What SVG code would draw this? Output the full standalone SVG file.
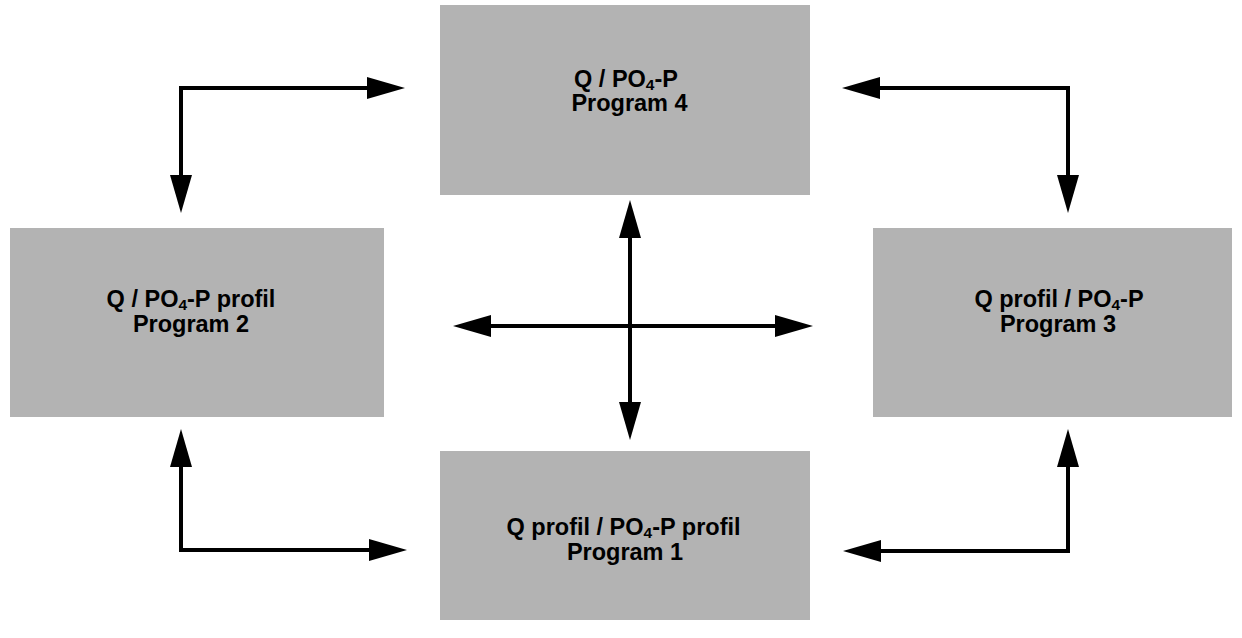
<svg xmlns="http://www.w3.org/2000/svg" width="1242" height="638" viewBox="0 0 1242 638">
  <style>
    .box { fill: #b3b3b3; }
    .label { font-family: "Liberation Sans", Arial, sans-serif; font-weight: bold; font-size: 23.5px; fill: #000; text-anchor: middle; }
    .sub { font-size: 15.5px; }
    .link { fill: none; stroke: #000; stroke-width: 4; stroke-linejoin: miter; marker-start: url(#head); marker-end: url(#head); }
  </style>
  <defs>
    <marker id="head" markerUnits="userSpaceOnUse" markerWidth="40" markerHeight="24" viewBox="0 -12 40 24" refX="0" refY="0" orient="auto-start-reverse">
      <path d="M0,-11 L38,0 L0,11 Z" fill="#000"/>
    </marker>
  </defs>

  <rect width="1242" height="638" fill="#fff"/>

  <!-- program boxes -->
  <g id="program4">
    <rect class="box" x="440" y="5" width="370" height="190"/>
    <text class="label" x="626" y="87">Q / PO<tspan class="sub" dy="3">4</tspan><tspan dy="-3">-P</tspan></text>
    <text class="label" x="629.5" y="111">Program 4</text>
  </g>
  <g id="program2">
    <rect class="box" x="10" y="228" width="374" height="189"/>
    <text class="label" x="191" y="307">Q / PO<tspan class="sub" dy="3">4</tspan><tspan dy="-3">-P profil</tspan></text>
    <text class="label" x="191" y="331.5">Program 2</text>
  </g>
  <g id="program3">
    <rect class="box" x="873" y="228" width="359" height="189"/>
    <text class="label" x="1059" y="307">Q profil / PO<tspan class="sub" dy="3">4</tspan><tspan dy="-3">-P</tspan></text>
    <text class="label" x="1058" y="331.5">Program 3</text>
  </g>
  <g id="program1">
    <rect class="box" x="440" y="451" width="370" height="169"/>
    <text class="label" x="623.5" y="535">Q profil / PO<tspan class="sub" dy="3">4</tspan><tspan dy="-3">-P profil</tspan></text>
    <text class="label" x="625" y="559.5">Program 1</text>
  </g>

  <!-- connectors -->
  <g id="connectors">
    <path class="link" d="M367,88 H181 V175"/>
    <path class="link" d="M880,88 H1068 V175"/>
    <path class="link" d="M181,467 V550 H369"/>
    <path class="link" d="M1068,467 V551 H881"/>
    <path class="link" d="M630,238 V402"/>
    <path class="link" d="M491,326 H775"/>
  </g>
</svg>
